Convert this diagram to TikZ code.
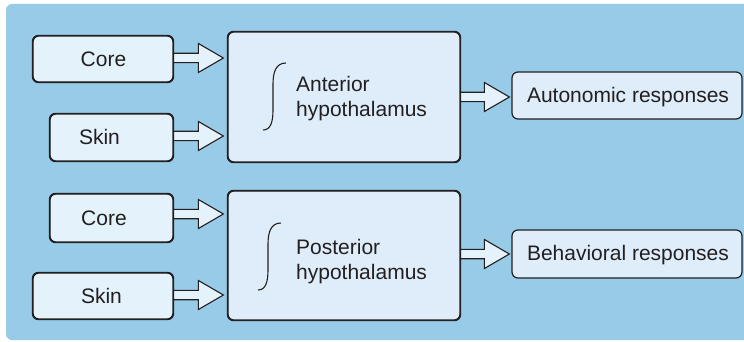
\documentclass[tikz,border=0pt]{standalone}
\usepackage{fontspec}
\setmainfont{Liberation Sans}
\usetikzlibrary{calc}
\definecolor{bgblue}{HTML}{97CBE7}
\definecolor{boxfill}{HTML}{DEEDF9}
\definecolor{smallfill}{HTML}{E4F2FC}
\definecolor{edgecol}{HTML}{231F20}
\tikzset{
  box/.style={draw=edgecol, line width=1.2pt, rounded corners=6pt, inner sep=0pt},
  lbl/.style={font=\fontsize{21}{25}\selectfont, inner sep=0pt, text height=15pt, text depth=0pt, text=edgecol},
  hyp/.style={font=\fontsize{21}{25}\selectfont, inner sep=0pt, align=left, anchor=west, text=edgecol},
  barrow/.style={draw=edgecol, fill=smallfill, line width=1.1pt, line join=miter},
  integ/.style={draw=edgecol, line width=1.1pt}
}
% #1 source node, #2 target node, #3 vertical offset, #4 gap before target
\newcommand{\blockarrow}[4]{%
  \path[barrow] let \p1=($(#1.east)+(0,#3)$), \p2=(#2.west) in
    (\x1,\y1+4.7pt) -- (\x2-#4-25pt,\y1+4.7pt) -- (\x2-#4-25pt,\y1+14.5pt)
    -- (\x2-#4,\y1) -- (\x2-#4-25pt,\y1-14.5pt) -- (\x2-#4-25pt,\y1-4.7pt)
    -- (\x1,\y1-4.7pt);}
\begin{document}
\begin{tikzpicture}[x=1pt,y=-1pt]
\useasboundingbox (0,0) rectangle (744,342);
\begin{scope}
  \clip (0,0) rectangle (744,342);
  \fill[white] (0,0) rectangle (744,342);
  \fill[bgblue, rounded corners=6pt] (6,4) rectangle (770,340);
\end{scope}

% boxes
\node[box, fill=smallfill, minimum width=140pt, minimum height=46pt] (core1) at (103,59) {};
\node[box, fill=smallfill, minimum width=123pt, minimum height=47pt] (skin1) at (111.5,137.5) {};
\node[box, fill=boxfill, minimum width=232pt, minimum height=130pt] (antH) at (344,97) {};
\node[box, fill=boxfill, minimum width=230pt, minimum height=47pt] (auto) at (627,95.5) {};
\node[box, fill=smallfill, minimum width=123pt, minimum height=48pt] (core2) at (111.5,218) {};
\node[box, fill=smallfill, minimum width=140pt, minimum height=46pt] (skin2) at (103,296) {};
\node[box, fill=boxfill, minimum width=232pt, minimum height=129pt] (postH) at (344,255.5) {};
\node[box, fill=boxfill, minimum width=230pt, minimum height=48pt] (beh) at (627,254) {};

% block arrows
\blockarrow{core1}{antH}{-1}{4pt}
\blockarrow{skin1}{antH}{-1.5}{4pt}
\blockarrow{antH}{auto}{0}{2pt}
\blockarrow{core2}{postH}{-4}{4pt}
\blockarrow{skin2}{postH}{-1}{4pt}
\blockarrow{postH}{beh}{-1.5}{2pt}

% redraw box borders over arrow starts
\foreach \n in {core1,skin1,antH,core2,skin2,postH}{
  \draw[edgecol, line width=1.2pt, rounded corners=6pt] (\n.north west) rectangle (\n.south east);
}

% labels
\node[lbl] (core1t) at (103.5,59) {Core};
\node[lbl] (skin1t) at (99.5,137) {Skin};
\node[lbl] (core2t) at (104,218) {Core};
\node[lbl] (skin2t) at (101.5,296) {Skin};
\node[lbl] (autot) at (628,95) {Autonomic responses};
\node[lbl] (beht) at (628,253) {Behavioral responses};
\node[hyp] (antT) at (296,99) {Anterior\\hypothalamus};
\node[hyp] (postT) at (296,261.5) {Posterior\\hypothalamus};

% integral signs
\draw[integ] (263,130) .. controls (271,130) and (273,121) .. (273,110) -- (273,84) .. controls (273,72) and (276,63) .. (286,63);
\draw[integ, shift={(-5,160)}] (263,130) .. controls (271,130) and (273,121) .. (273,110) -- (273,84) .. controls (273,72) and (276,63) .. (286,63);
\end{tikzpicture}
\end{document}
